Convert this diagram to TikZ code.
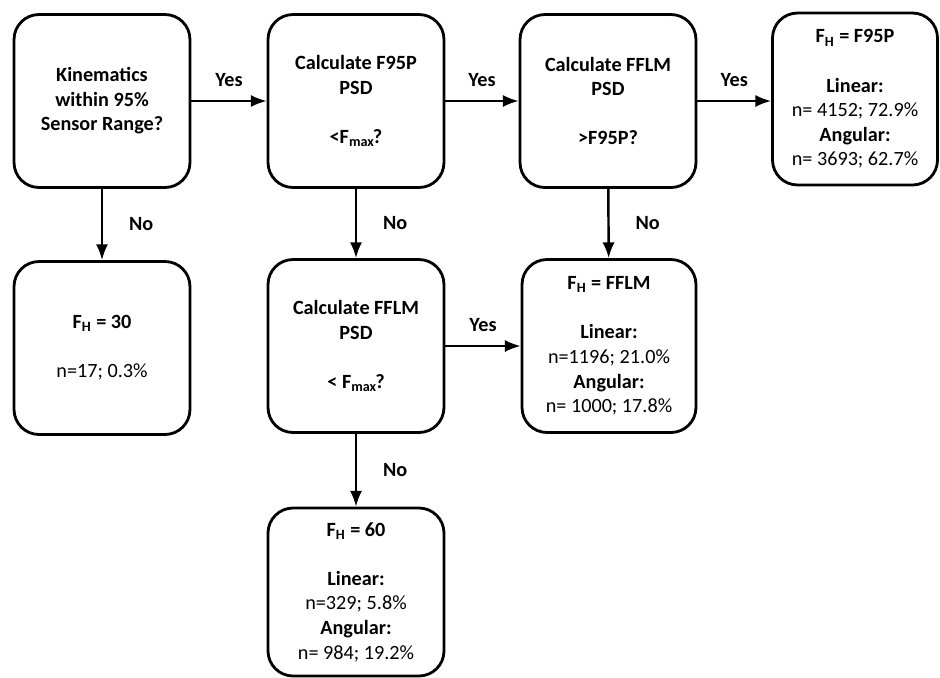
\documentclass[tikz,border=0pt]{standalone}
\usepackage{fontspec}
\setmainfont{Carlito}
\usetikzlibrary{arrows.meta}
\tikzset{
  > = {Latex[length=9pt,width=7pt]},
  box/.style = {draw, line width=1.6pt, rounded corners=0.5cm, align=center,
    minimum width=3.52cm, minimum height=3.46cm, inner sep=0pt,
    font=\fontsize{11.5}{14}\selectfont},
  flow/.style = {->, line width=1.4pt},
  answer/.style = {font=\fontsize{11.5}{14}\selectfont\bfseries},
}

\begin{document}
\begin{tikzpicture}[x=0.02cm, y=-0.02cm]
  \useasboundingbox (0,0) rectangle (940,677);

  %% top row
  \node[box] (kin) at (102,101) {\textbf{Kinematics}\\ \textbf{within 95\%}\\ \textbf{Sensor Range?}};
  \node[box] (f95p) at (356,101) {\textbf{Calculate F95P}\\ \textbf{PSD}\\[14pt] \textbf{<F\textsubscript{max}\kern-1pt?}};
  \node[box] (fflm) at (608,101) {\textbf{Calculate FFLM}\\ \textbf{PSD}\\[14pt] \textbf{>F95P?}};
  \node[box, minimum width=3.3cm, minimum height=3.44cm] (resF95P) at (855,99)
    {\textbf{F\textsubscript{H} = F95P}\\[14pt] \textbf{Linear:}\\ n= 4152; 72.9\%\\ \textbf{Angular:}\\ n= 3693; 62.7\%};

  %% second row
  \node[box] (res30) at (102,348) {\textbf{F\textsubscript{H} = 30}\\[14pt] n=17; 0.3\%};
  \node[box] (fflmB) at (356,346) {\textbf{Calculate FFLM}\\ \textbf{PSD}\\[14pt] \textbf{< F\textsubscript{max}\kern-1pt?}};
  \node[box, minimum width=3.48cm] (resFFLM) at (609,346)
    {\textbf{F\textsubscript{H} = FFLM}\\[14pt] \textbf{Linear:}\\ n=1196; 21.0\%\\ \textbf{Angular:}\\ n= 1000; 17.8\%};

  %% bottom
  \node[box, minimum height=3.36cm] (res60) at (356,592)
    {\textbf{F\textsubscript{H} = 60}\\[14pt] \textbf{Linear:}\\ n=329; 5.8\%\\ \textbf{Angular:}\\ n= 984; 19.2\%};

  % yes arrows
  \draw[flow] (kin) -- node[answer, above=0.14cm] {Yes} (f95p);
  \draw[flow] (f95p) -- node[answer, above=0.14cm] {Yes} (fflm);
  \draw[flow] (fflm.east) -- node[answer, above=0.14cm] {Yes} (fflm.east -| resF95P.west);
  \draw[flow] (fflmB) -- node[answer, above=0.14cm] {Yes} (resFFLM);

  % no arrows
  \draw[flow] (kin) -- node[answer, right=0.4cm] {No} (res30);
  \draw[flow] (f95p) -- node[answer, right=0.4cm] {No} (fflmB);
  \draw[flow] (fflm) -- node[answer, right=0.4cm] {No} (resFFLM);
  \draw[flow] (fflmB) -- node[answer, right=0.4cm] {No} (res60);
\end{tikzpicture}
\end{document}
